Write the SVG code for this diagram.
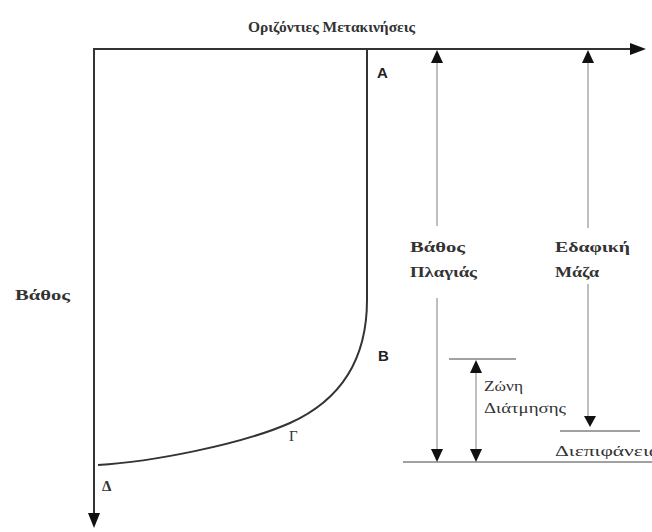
<svg xmlns="http://www.w3.org/2000/svg" width="652" height="532" viewBox="0 0 652 532">
<style>
.t{font-family:"Liberation Serif","DejaVu Serif",serif;font-size:15px;font-weight:bold;fill:#333}
.tn{font-family:"Liberation Serif","DejaVu Serif",serif;font-size:15px;fill:#333}
.s{font-family:"Liberation Sans",Arial,sans-serif;font-size:15px;font-weight:bold;fill:#222}
.ax{stroke:#333;stroke-width:2;fill:none}
.m{stroke:#aaa;stroke-width:1.5;fill:none}
.r{stroke:#444;stroke-width:1;fill:none}
.ah{fill:#111}
</style>
<rect width="652" height="532" fill="#fff"/>
<g id="connectors">
<line class="ax" x1="93" y1="49" x2="632" y2="49"/>
<polygon class="ah" points="646,49 630,43 630,55"/>
<line class="ax" x1="94" y1="48" x2="94" y2="514"/>
<polygon class="ah" points="94,528 88,513 100,513"/>
<path class="ax" d="M367,49 L367,300 C367,370 330,405 290,423 C240,445 150,462 98,465"/>
<line class="m" x1="437" y1="60" x2="437" y2="226"/>
<line class="m" x1="437" y1="298" x2="437" y2="450"/>
<polygon class="ah" points="437,50 431,63 443,63"/>
<polygon class="ah" points="437,462 431,449 443,449"/>
<line class="m" x1="588" y1="60" x2="588" y2="228"/>
<line class="m" x1="588" y1="284" x2="588" y2="416"/>
<polygon class="ah" points="588,50 582,63 594,63"/>
<polygon class="ah" points="590,427 584,416 596,416"/>
<line class="m" x1="476" y1="372" x2="476" y2="450"/>
<polygon class="ah" points="476,360 470,373 482,373"/>
<polygon class="ah" points="476,462 470,449 482,449"/>
<line class="r" x1="449" y1="359" x2="516" y2="359"/>
<line class="r" x1="560" y1="431" x2="640" y2="431"/>
<line class="r" x1="403" y1="462" x2="652" y2="462"/>
</g>
<g id="title"><text class="t" x="248" y="32" textLength="167" lengthAdjust="spacingAndGlyphs">Οριζόντιες Μετακινήσεις</text></g>
<g id="depth"><text class="t" x="15" y="300" textLength="55" lengthAdjust="spacingAndGlyphs">Βάθος</text></g>
<g id="A"><text class="s" x="377" y="78">A</text></g>
<g id="B"><text class="s" x="378" y="361">B</text></g>
<g id="G"><text class="tn" x="289" y="441">Γ</text></g>
<g id="D"><text class="t" x="102" y="491">Δ</text></g>
<g id="slope"><text class="t" x="410" y="252" textLength="55" lengthAdjust="spacingAndGlyphs">Βάθος</text><text class="t" x="410" y="277" textLength="67" lengthAdjust="spacingAndGlyphs">Πλαγιάς</text></g>
<g id="soil"><text class="t" x="555" y="252" textLength="75" lengthAdjust="spacingAndGlyphs">Εδαφική</text><text class="t" x="555" y="277" textLength="44" lengthAdjust="spacingAndGlyphs">Μάζα</text></g>
<g id="zone"><text class="tn" x="484" y="391" textLength="39" lengthAdjust="spacingAndGlyphs">Ζώνη</text><text class="tn" x="484" y="413" textLength="82" lengthAdjust="spacingAndGlyphs">Διάτμησης</text></g>
<g id="interface"><text class="tn" x="555" y="456" textLength="105" lengthAdjust="spacingAndGlyphs">Διεπιφάνεια</text></g>
</svg>
